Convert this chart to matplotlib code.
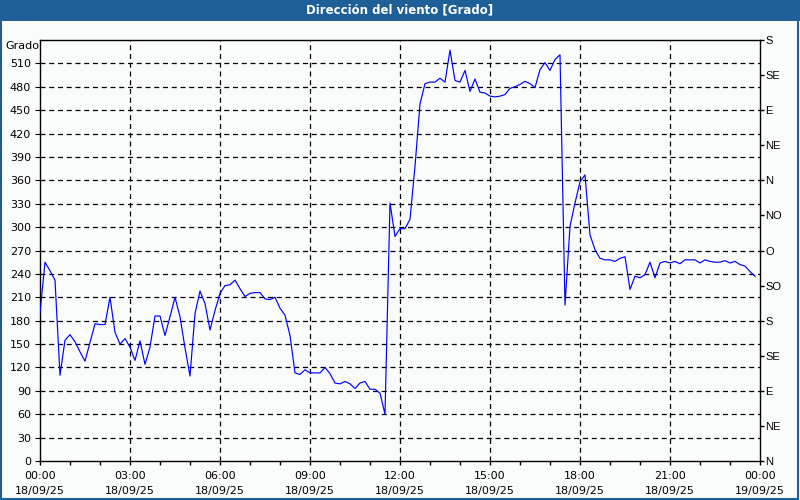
import numpy as np
import matplotlib
matplotlib.use("Agg")
import matplotlib.pyplot as plt
from matplotlib.patches import Rectangle

# ---- data (10-minute samples from 18/09/25 00:00) ----
direction_deg = [
    190, 255, 244, 232, 110, 155, 162, 153, 140, 128,
    152, 176, 175, 175, 210, 165, 150, 157, 146, 129,
    154, 124, 146, 186, 186, 161, 185, 210, 185, 145,
    109, 189, 218, 202, 168, 193, 215, 225, 226, 232,
    221, 211, 215, 216, 216, 208, 207, 210, 196, 187,
    161, 113, 111, 117, 113, 113, 113, 120, 112, 100,
    99, 102, 99, 93, 100, 102, 92, 92, 87, 60,
    331, 288, 298, 298, 310, 378, 458, 484, 486, 486,
    491, 486, 527, 488, 486, 501, 474, 490, 473, 472,
    468, 467, 468, 470, 478, 480, 483, 487, 484, 479,
    502, 511, 501, 515, 521, 200, 301, 331, 358, 367,
    290, 271, 260, 258, 258, 256, 260, 262, 220, 237,
    235, 239, 255, 235, 254, 256, 254, 256, 253, 258,
    258, 258, 254, 258, 256, 255, 255, 257, 254, 256,
    252, 250, 243, 237,
]
sample_minutes = 10
title = "Dirección del viento [Grado]"
y_label = "Grado"
left_ticks = list(range(0, 511, 30))
right_ticks = list(range(0, 541, 45))
right_labels = ["N", "NE", "E", "SE", "S", "SO", "O", "NO", "N", "NE", "E", "SE", "S"]
x_major_hours = list(range(0, 25, 3))
x_labels = ["00:00\n18/09/25", "03:00\n18/09/25", "06:00\n18/09/25", "09:00\n18/09/25",
            "12:00\n18/09/25", "15:00\n18/09/25", "18:00\n18/09/25", "21:00\n18/09/25",
            "00:00\n19/09/25"]

hours = np.arange(len(direction_deg)) * sample_minutes / 60.0

BG = "#fafcfc"
BAR = "#1f5f97"

fig = plt.figure(figsize=(8, 5), dpi=100, facecolor=BG)

# title bar
fig.patches.append(Rectangle((0, 1 - 21/500), 1, 21/500, transform=fig.transFigure,
                             facecolor=BAR, edgecolor="none", zorder=0))
fig.text(0.5, 1 - 10/500, title, color="white", fontsize=8.5, fontweight="bold",
         ha="center", va="center", family="DejaVu Sans")
# outer frame
fig.patches.append(Rectangle((0.001, 0.002), 0.997, 0.996, transform=fig.transFigure,
                             facecolor="none", edgecolor=BAR, linewidth=1.5, zorder=10))

ax = fig.add_axes([40/800, 39/500, 720/800, 421/500])
ax.set_facecolor(BG)
ax.plot(hours, direction_deg, color="#0000ff", linewidth=0.85, zorder=3)

ax.set_xlim(0, 24)
ax.set_ylim(0, 540)

for s in ax.spines.values():
    s.set_color("black")
    s.set_linewidth(1.0)

ax.set_yticks(left_ticks)
ax.set_yticklabels([str(v) for v in left_ticks], fontsize=8, family="DejaVu Sans")
ax.tick_params(axis="y", left=False, pad=3)
ax.set_xticks(x_major_hours)
ax.set_xticklabels(x_labels, fontsize=8, family="DejaVu Sans", linespacing=1.6)
ax.set_xticks(range(0, 25), minor=True)
ax.tick_params(axis="x", which="both", direction="out", length=3, width=1, pad=4)

# grid
for v in left_ticks[1:]:
    ax.axhline(v, color="black", linewidth=0.9, dashes=(4, 3), zorder=1)
for h in x_major_hours[1:-1]:
    ax.axvline(h, color="black", linewidth=0.9, dashes=(4, 3), zorder=1)

# right axis with compass labels
ax2 = ax.twinx()
ax2.set_ylim(0, 540)
ax2.set_yticks(right_ticks)
ax2.set_yticklabels(right_labels, fontsize=8, family="Liberation Sans")
ax2.tick_params(axis="y", direction="out", length=3, width=1, pad=1)
for s in ax2.spines.values():
    s.set_visible(False)

fig.text(22/800, 1 - 46/500, y_label, fontsize=8, ha="center", va="center",
         family="DejaVu Sans")

fig.savefig("out.png", dpi=100, facecolor=BG)
